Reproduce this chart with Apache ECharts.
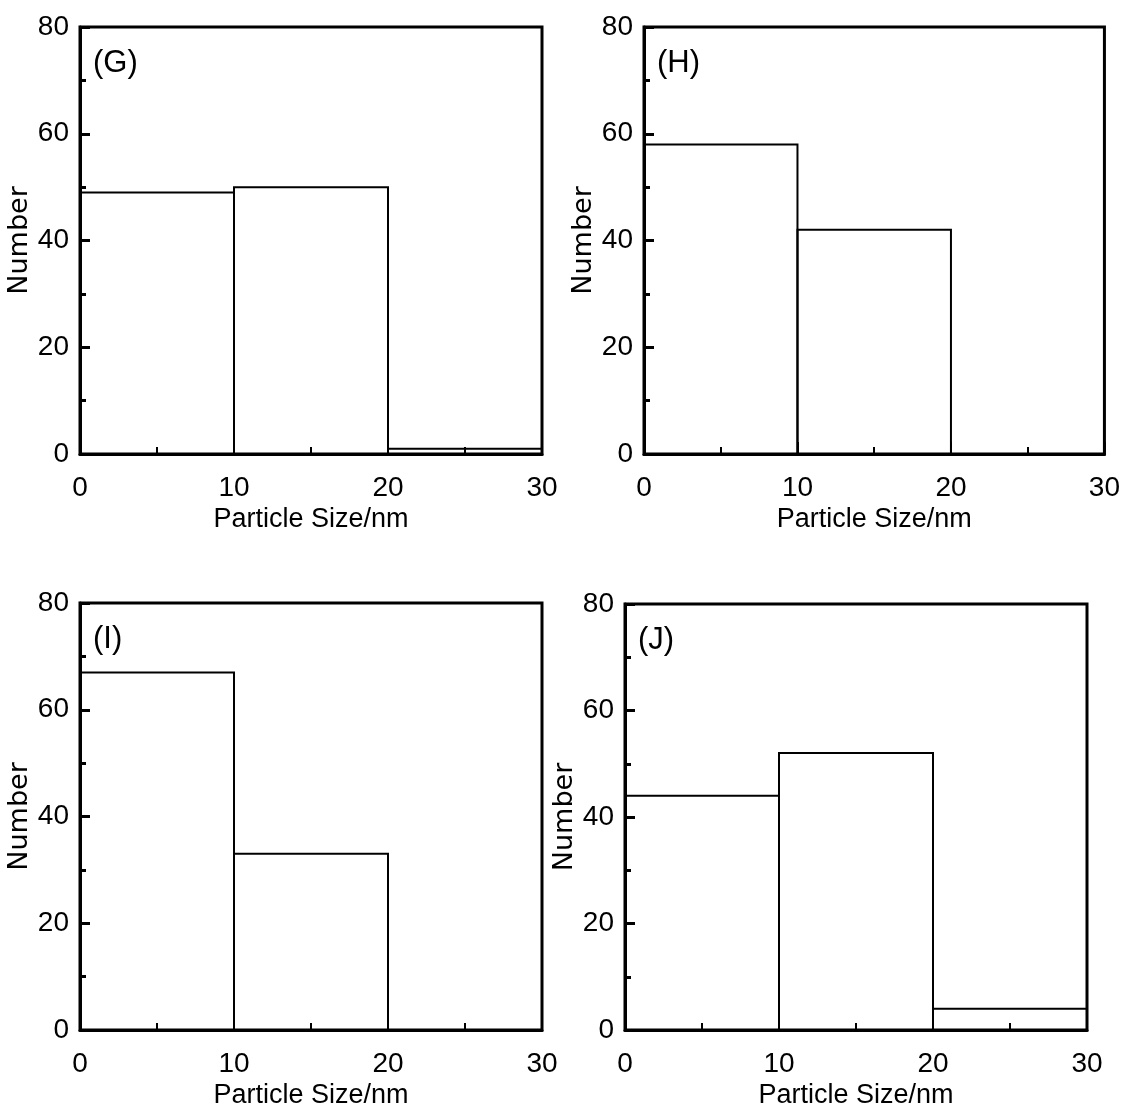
<!DOCTYPE html>
<html>
<head>
<meta charset="utf-8">
<script src="https://cdn.jsdelivr.net/npm/echarts@6/dist/echarts.min.js"></script>
<style>
html,body{margin:0;padding:0;background:#fff;}
#c{width:1123px;height:1113px;}
</style>
</head>
<body>
<div id="c"></div>
<script>
// Data
const binStarts = [0, 10, 20];
const binEnds = [10, 20, 30];
const panelNames = ['(G)', '(H)', '(I)', '(J)'];
const countsG = [49, 50, 1];
const countsH = [58, 42, 0];
const countsI = [67, 33, 0];
const countsJ = [44, 52, 4];
const xTicks = [0, 10, 20, 30];
const yTicks = [0, 20, 40, 60, 80];
const xLabel = 'Particle Size/nm';
const yLabel = 'Number';

const allCounts = [countsG, countsH, countsI, countsJ];
const grids = [
  {left: 80, top: 27, width: 462, height: 427},
  {left: 644, top: 27, width: 463, height: 427},
  {left: 80, top: 603, width: 462, height: 427},
  {left: 625, top: 604, width: 462, height: 426}
];
const narrow = "'Liberation Sans Narrow', 'Liberation Sans', Arial, sans-serif";

const chart = echarts.init(document.getElementById('c'));
const option = {
  backgroundColor: '#fff',
  animation: false,
  title: [],
  grid: [],
  xAxis: [],
  yAxis: [],
  series: []
};
grids.forEach((g, i) => {
  option.grid.push(Object.assign({show: true, borderColor: '#000', borderWidth: 3, backgroundColor: 'transparent'}, g));
  option.title.push({
    text: panelNames[i], left: g.left + 8, top: g.top + 16,
    textStyle: {fontFamily: narrow, fontSize: 31, fontWeight: 'normal', color: '#000'}
  });
  option.xAxis.push({
    type: 'value', gridIndex: i, min: xTicks[0], max: xTicks[xTicks.length - 1], interval: 10,
    name: xLabel, nameLocation: 'middle', nameGap: 52,
    nameTextStyle: {fontFamily: narrow, fontSize: 27, color: '#000'},
    axisLine: {show: true, onZero: false, lineStyle: {color: '#000', width: 3}},
    axisTick: {show: true, inside: true, length: 12, lineStyle: {color: '#000', width: 2}},
    minorTick: {show: true, splitNumber: 2, length: 7, lineStyle: {color: '#000', width: 2}},
    axisLabel: {show: true, margin: 20, fontFamily: narrow, fontSize: 28, color: '#000'},
    splitLine: {show: false}, minorSplitLine: {show: false}
  });
  option.yAxis.push({
    type: 'value', gridIndex: i, min: yTicks[0], max: yTicks[yTicks.length - 1], interval: 20,
    name: yLabel, nameLocation: 'middle', nameGap: 44, nameRotate: 90,
    nameTextStyle: {fontFamily: "'DejaVu Sans', sans-serif", fontSize: 27, color: '#000'},
    axisLine: {show: true, onZero: false, lineStyle: {color: '#000', width: 3}},
    axisTick: {show: true, inside: true, length: 10, lineStyle: {color: '#000', width: 3}},
    minorTick: {show: true, splitNumber: 2, length: 6, lineStyle: {color: '#000', width: 3}},
    axisLabel: {show: true, margin: 11, fontFamily: narrow, fontSize: 28, color: '#000'},
    splitLine: {show: false}, minorSplitLine: {show: false}
  });
  const data = allCounts[i].map((v, k) => [binStarts[k], binEnds[k], v]);
  option.series.push({
    type: 'custom', xAxisIndex: i, yAxisIndex: i, z: 1,
    data: data,
    renderItem: function (params, api) {
      const v = api.value(2);
      if (!v) return null;
      const p0 = api.coord([api.value(0), v]);
      const p1 = api.coord([api.value(1), 0]);
      return {
        type: 'rect',
        shape: {x: p0[0], y: p0[1], width: p1[0] - p0[0], height: p1[1] - p0[1]},
        style: {fill: 'transparent', stroke: '#000', lineWidth: 2}
      };
    },
    encode: {x: [0, 1], y: 2}
  });
});
chart.setOption(option);
</script>
</body>
</html>
